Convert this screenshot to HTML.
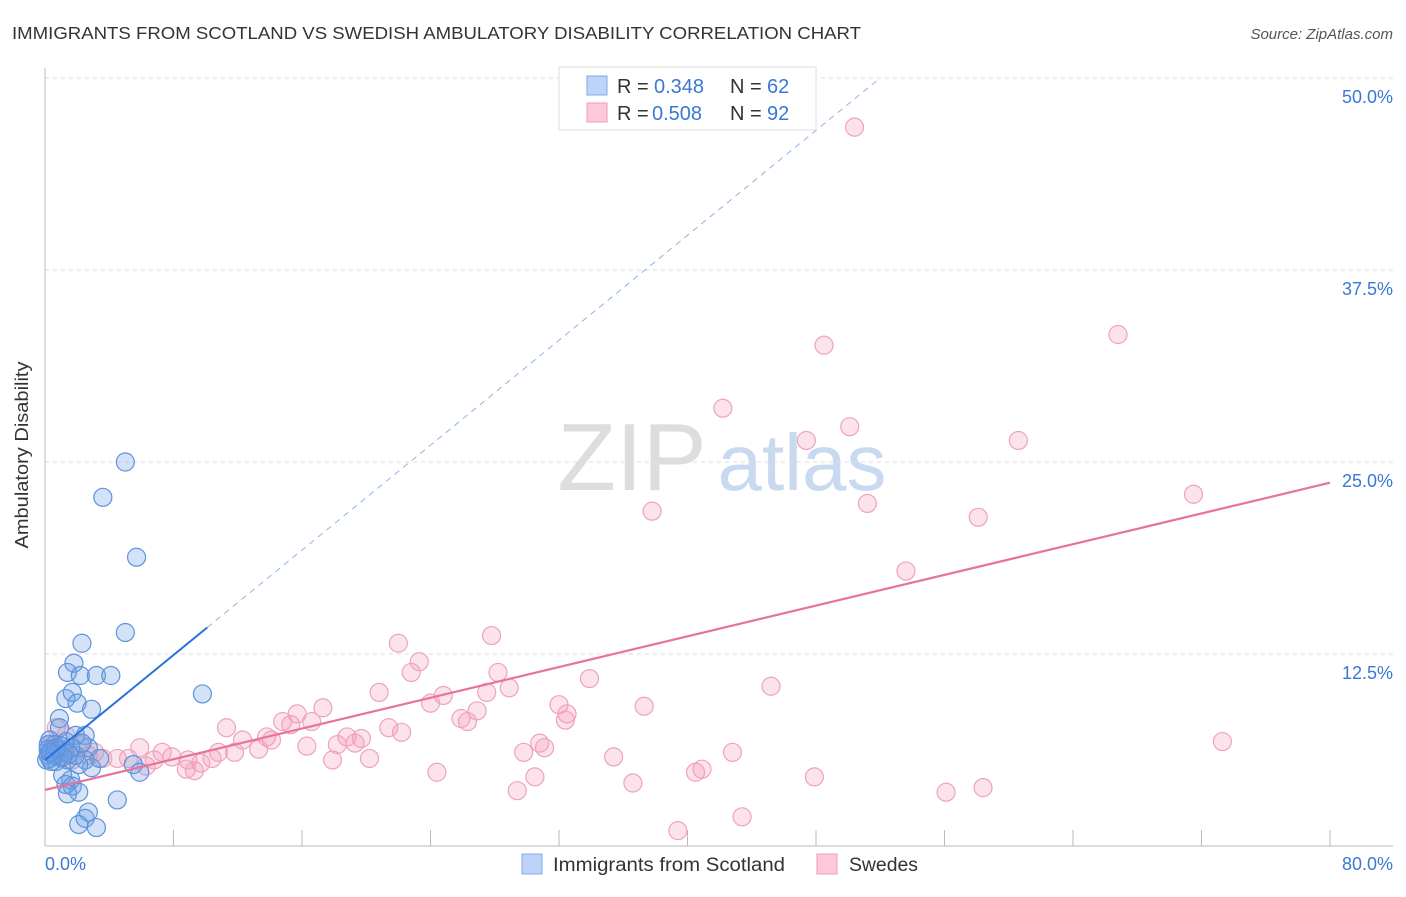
<!DOCTYPE html>
<html><head><meta charset="utf-8"><style>
body{margin:0;background:#fff;font-family:"Liberation Sans",sans-serif}
svg text{font-family:"Liberation Sans",sans-serif}
</style></head><body>
<svg id="c" width="1406" height="892" xmlns="http://www.w3.org/2000/svg">
<text x="12" y="39" font-size="17.5" fill="#333" textLength="849" lengthAdjust="spacingAndGlyphs">IMMIGRANTS FROM SCOTLAND VS SWEDISH AMBULATORY DISABILITY CORRELATION CHART</text>
<text x="1393" y="39" font-size="15" fill="#555" font-style="italic" text-anchor="end">Source: ZipAtlas.com</text>
<g>
<text x="632" y="490" font-size="96" fill="#ddd" font-family="Liberation Serif,serif" text-anchor="middle">ZIP</text>
<text x="802" y="490" font-size="80" fill="#c9d9ef" text-anchor="middle">atlas</text>
</g>
<g id="grid"></g>
<g id="axes"></g>
<g id="pts"></g>
<g id="lines"></g>
<g>
<rect x="559" y="67" width="257" height="63" fill="#fff" stroke="#ddd"/>
<rect x="587" y="76" width="20" height="19" fill="#bcd4f5" stroke="#7ea9e6"/>
<rect x="587" y="103" width="20" height="19" fill="#fbc9d8" stroke="#f09bb6"/>
<text x="617" y="93" font-size="20" fill="#333">R =</text><text x="654" y="93" font-size="20" fill="#3a78d6">0.348</text>
<text x="730" y="93" font-size="20" fill="#333">N =</text><text x="767" y="93" font-size="20" fill="#3a78d6">62</text>
<text x="617" y="120" font-size="20" fill="#333">R =</text><text x="652" y="120" font-size="20" fill="#3a78d6">0.508</text>
<text x="730" y="120" font-size="20" fill="#333">N =</text><text x="767" y="120" font-size="20" fill="#3a78d6">92</text>
</g>
<g>
<rect x="522" y="854" width="20" height="20" fill="#bcd4f5" stroke="#7ea9e6"/>
<text x="553" y="871" font-size="19" fill="#333" textLength="232" lengthAdjust="spacingAndGlyphs">Immigrants from Scotland</text>
<rect x="817" y="854" width="20" height="20" fill="#fbc9d8" stroke="#f09bb6"/>
<text x="849" y="871" font-size="19" fill="#333" textLength="69" lengthAdjust="spacingAndGlyphs">Swedes</text>
</g>
<text x="28" y="455" font-size="18" fill="#333" text-anchor="middle" textLength="187" lengthAdjust="spacingAndGlyphs" transform="rotate(-90 28 455)">Ambulatory Disability</text>
</svg>
<script>
const blueX=[5.0,3.6,5.7,5.0,2.3,1.8,1.4,2.2,3.2,4.1,9.8,1.3,1.7,2.0,2.9,0.9,0.9,1.9,2.5,0.3,0.6,1.3,2.7,1.6,0.4,0.2,0.9,1.4,2.5,2.9,2.1,3.4,5.5,5.9,1.1,1.6,1.3,1.7,2.1,1.4,2.7,4.5,2.5,2.1,3.2,0.2,0.1,0.7,1.9,1.2,0.5,0.8,0.3,1.0,0.6,1.5,0.2,0.4,2.3,1.1,0.7,0.3];
const blueY=[25.0,22.7,18.8,13.9,13.2,11.9,11.3,11.1,11.1,11.1,9.9,9.6,10.0,9.3,8.9,8.3,7.7,7.2,7.2,6.9,6.6,6.8,6.4,6.4,6.3,5.9,5.8,5.6,5.6,5.1,5.3,5.7,5.3,4.8,4.6,4.3,4.0,3.9,3.5,3.4,2.2,3.0,1.8,1.4,1.2,6.6,5.6,5.5,5.9,6.1,6.0,6.2,5.7,6.5,5.9,6.0,6.3,5.5,6.7,5.8,6.4,6.1];
const pinkX=[50.4,66.8,48.5,42.2,47.4,50.1,60.6,71.5,37.8,51.2,58.1,53.6,27.8,22.0,23.3,22.8,28.2,33.9,45.2,20.8,24.8,27.5,28.9,24.0,32.0,37.3,17.3,15.7,26.9,32.5,25.9,26.3,32.4,14.8,15.3,16.6,11.3,21.4,22.2,18.8,19.7,13.8,12.3,14.1,19.3,16.3,18.2,13.3,30.8,31.1,29.8,42.8,73.3,10.8,11.8,7.3,5.9,7.9,8.9,10.4,5.2,4.5,3.6,6.8,17.9,20.2,35.4,9.7,6.3,8.8,9.3,24.4,40.9,40.5,30.5,47.9,36.6,58.4,56.1,29.4,43.4,39.4,0.7,1.3,2.2,0.9,3.1,1.7,2.7,0.3,1.0,0.5];
const pinkY=[46.8,33.3,32.6,28.5,26.4,27.3,26.4,22.9,21.8,22.3,21.4,17.9,13.7,13.2,12.0,11.3,11.3,10.9,10.4,10.0,9.8,10.0,10.3,9.3,9.2,9.1,9.0,8.6,8.8,8.6,8.3,8.1,8.2,8.1,7.9,8.1,7.7,7.7,7.4,7.1,7.0,7.1,6.9,6.9,6.7,6.5,6.6,6.3,6.7,6.4,6.1,6.1,6.8,6.1,6.1,6.1,6.4,5.8,5.6,5.7,5.7,5.7,5.7,5.6,5.6,5.7,5.8,5.4,5.2,5.0,4.9,4.8,5.0,4.8,4.5,4.5,4.1,3.8,3.5,3.6,1.9,1.0,7.7,7.2,6.6,6.3,6.1,5.6,5.9,6.6,6.0,6.2];
const yTicks=[12.5,25,37.5,50];
const yTickLabels=["12.5%","25.0%","37.5%","50.0%"];
const blueLine=[5.6,0.854];
const pinkLine=[3.65,0.25];
const X0=45,X1=1330,Y0=846;
const sx=v=>X0+v*(X1-X0)/80;
const sy=v=>Y0-v*15.36;
const NS="http://www.w3.org/2000/svg";
function mk(t,a,p){const e=document.createElementNS(NS,t);for(const k in a)e.setAttribute(k,a[k]);p.appendChild(e);return e;}
const grid=document.getElementById('grid'),axes=document.getElementById('axes'),pts=document.getElementById('pts'),lines=document.getElementById('lines');
yTicks.forEach((t,i)=>{
 const g=mk('line',{x1:X0,x2:1393,y1:sy(t),y2:sy(t),stroke:'#ddd','stroke-dasharray':'4,4'},grid);
 
 
 const l=mk('text',{x:1393,y:sy(t)+25,'font-size':18,fill:'#3a78d6','text-anchor':'end'},axes);
 l.textContent=yTickLabels[i];
 
 
});
const ax=mk('line',{x1:X0,x2:1393,y1:Y0,y2:Y0,stroke:'#bbb'},axes);


const ay=mk('line',{x1:X0,x2:X0,y1:68,y2:Y0,stroke:'#bbb'},axes);


for(let i=0;i<=10;i++){
 const tk=mk('line',{x1:sx(i*8),x2:sx(i*8),y1:Y0-16,y2:Y0,stroke:'#bbb'},axes);
 
 
}
const xl0=mk('text',{x:45,y:870,'font-size':18,fill:'#3a78d6'},axes);xl0.textContent='0.0%';


const xl1=mk('text',{x:1393,y:870,'font-size':18,fill:'#3a78d6','text-anchor':'end'},axes);xl1.textContent='80.0%';


pinkX.forEach((x,i)=>{
 const c=mk('circle',{cx:sx(x),cy:sy(pinkY[i]),r:9,fill:'rgba(244,160,190,0.3)',stroke:'#eea3bb','stroke-width':1.2},pts);
 
 
});
blueX.forEach((x,i)=>{
 const c=mk('circle',{cx:sx(x),cy:sy(blueY[i]),r:9,fill:'rgba(110,160,230,0.3)',stroke:'#5d92dc','stroke-width':1.2},pts);
 
 
});
const bEnd=10.1,bDash=(50-blueLine[0])/blueLine[1];
const b1=mk('line',{x1:sx(0),y1:sy(blueLine[0]),x2:sx(bEnd),y2:sy(blueLine[0]+blueLine[1]*bEnd),stroke:'#2a72d8','stroke-width':2},lines);


const b2=mk('line',{x1:sx(bEnd),y1:sy(blueLine[0]+blueLine[1]*bEnd),x2:sx(bDash),y2:sy(50),stroke:'#8fb3e6','stroke-width':1,'stroke-dasharray':'6,5'},lines);


const p1=mk('line',{x1:sx(0),y1:sy(pinkLine[0]),x2:sx(80),y2:sy(pinkLine[0]+pinkLine[1]*80),stroke:'#e8739a','stroke-width':2.2},lines);


</script>
</body></html>
